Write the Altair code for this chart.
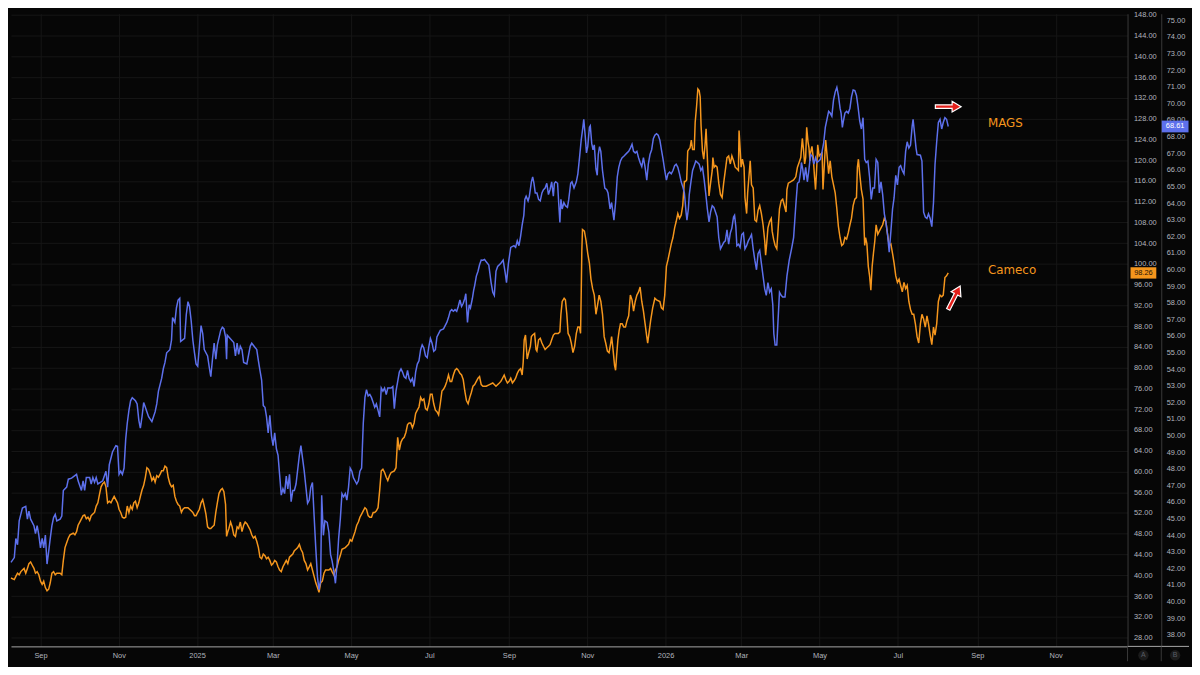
import altair as alt
import pandas as pd

# ---------------- data (day offset from 2024-08-09, price) ----------------
START = "2024-08-09"

mags = [
(0.0,42.36),(2.6,42.65),(3.8,43.80),(5.1,43.42),(6.4,44.86),(8.9,45.63),(11.5,45.73),(12.8,44.96),(14.0,45.44),(15.3,44.96),(17.9,44.57),(19.1,44.09),(20.4,44.57),(21.7,44.00),(23.0,43.23),(24.3,43.80),(25.5,43.23),(26.8,44.00),(28.1,42.26),(29.4,43.03),(30.6,43.80),(31.9,44.57),(33.2,45.06),(34.5,45.25),(35.7,44.86),(38.3,44.96),(39.6,45.15),(40.8,46.69),(43.4,46.89),(44.7,47.37),(47.2,47.43),(51.1,47.66),(52.3,47.27),(54.9,46.69),(56.2,47.27),(57.4,46.69),(58.7,47.47),(61.3,47.47),(62.5,47.08),(63.8,47.47),(65.1,47.18),(66.4,47.47),(67.7,47.08),(71.5,47.27),(74.0,47.85),(75.3,46.89),(76.6,48.24),(79.1,49.01),(81.7,49.39),(83.0,49.35),(84.2,47.66),(85.5,47.85),(86.8,47.66),(88.1,48.04),(89.4,49.78),(90.6,50.74),(91.9,51.51),(93.2,52.09),(94.5,52.28),(97.0,52.09),(98.3,51.90),(99.6,50.93),(100.8,50.45),(102.1,51.13),(103.4,51.99),(104.7,51.70),(107.2,51.13),(109.8,50.84),(112.3,51.42),(113.6,51.90),(114.9,52.67),(117.4,53.44),(118.7,54.02),(120.0,54.40),(121.3,54.98),(123.8,55.17),(125.1,55.75),(125.9,57.10),(127.7,56.81),(128.9,57.68),(130.2,58.16),(131.5,58.26),(132.2,55.66),(135.3,55.85),(136.6,57.29),(137.9,58.06),(139.1,57.77),(140.4,56.91),(141.7,55.75),(143.0,54.98),(144.2,54.31),(145.5,54.17),(146.8,55.37),(148.1,56.62),(149.4,56.14),(150.6,55.17),(153.2,54.79),(154.5,54.11),(155.7,53.54),(157.0,54.60),(158.3,55.56),(159.6,54.60),(160.8,55.46),(163.4,56.33),(164.7,56.52),(165.9,56.43),(167.2,55.94),(168.0,54.60),(168.5,56.04),(173.6,55.60),(174.9,54.79),(176.2,55.56),(177.4,54.88),(178.7,55.37),(180.0,55.17),(181.3,54.40),(183.8,54.31),(186.4,55.37),(187.6,55.56),(191.5,55.17),(192.8,54.50),(194.0,53.92),(195.3,53.34),(196.6,51.80),(197.9,51.70),(199.1,51.13),(200.4,50.16),(201.7,51.22),(203.0,49.97),(204.2,49.39),(205.5,50.16),(206.8,49.20),(208.1,48.81),(209.3,47.66),(210.6,46.41),(211.9,46.79),(213.2,46.50),(214.5,47.56),(215.7,46.79),(217.0,47.66),(218.3,46.02),(219.6,46.69),(220.8,46.69),(222.1,47.08),(224.7,48.81),(225.9,49.39),(227.2,48.62),(228.5,47.85),(229.8,46.89),
(231.1,45.92),(232.4,46.11),(233.6,46.88),(234.9,47.17),(236.2,45.15),(237.5,43.22),(238.8,41.49),(240.0,40.72),(241.3,41.30),(242.1,46.40),(243.4,43.99),(244.6,44.86),(246.4,44.77),(247.7,44.19),(249.0,42.84),(250.2,42.45),(251.5,41.87),(252.8,41.10),(254.1,42.26),(255.3,43.80),(256.6,44.96),(257.9,46.50),(259.2,46.31),(260.5,46.50),(261.7,46.11),(263.0,46.88),(264.3,48.04),(265.6,47.85),(266.8,47.46),(269.4,47.08),(270.7,47.27),(271.9,47.85),(273.2,48.04),(274.5,50.74),(275.8,52.28),(277.0,52.76),(278.3,52.38),(279.6,52.47),(280.9,52.28),(282.2,51.99),(283.4,51.70),(284.7,51.90),(286.0,51.51),(287.3,51.12),(288.5,52.86),(289.8,52.67),(291.1,52.86),(292.4,52.47),(293.6,52.86),(296.2,52.86),(297.5,52.95),(298.7,51.61),(300.0,52.67),(301.3,53.24),(302.6,53.82),(303.9,54.01),(305.1,53.82),(306.4,53.53),(307.7,53.44),(309.0,53.92),(310.2,53.44),(311.5,53.24),(312.8,53.44),(314.1,52.95),(315.3,53.82),(316.6,54.30),(317.9,54.50),(319.2,55.17),(320.4,55.46),(321.7,55.27),(323.0,54.79),(324.3,54.69),(325.6,55.36),(326.8,55.85),(328.1,55.56),(329.4,55.07),(330.7,55.17),(331.9,55.94),(333.2,56.13),(334.5,56.33),(337.0,56.42),(339.6,56.81),(340.9,57.10),(342.2,57.48),(343.4,57.58),(344.7,57.48),(346.0,57.58),(347.3,57.48),(348.5,57.77),(349.8,58.16),(351.1,57.77),(352.4,57.96),(353.6,58.25),(354.4,58.54),(354.9,57.87),(355.7,56.81),(357.0,57.87),(358.0,57.68),(359.5,58.25),(360.5,58.74),(361.3,59.03),(362.6,59.60),(363.9,59.89),(365.1,60.28),(366.4,60.57),
(367.7,60.56),(369.0,60.60),(370.3,60.46),(372.3,60.27),(374.1,59.21),(375.4,58.63),(376.6,58.44),(377.9,59.89),(379.2,60.18),(381.7,60.37),(383.5,60.56),(385.1,59.79),(386.1,59.21),(387.6,60.37),(389.4,61.33),(391.9,61.43),(393.2,61.33),(394.5,61.72),(395.8,61.43),(397.1,62.01),(398.3,62.68),(399.6,63.26),(400.4,64.22),(401.4,64.41),(402.9,64.13),(403.9,64.41),(405.5,65.28),(406.5,65.57),(407.5,65.19),(408.5,64.61),(409.8,64.61),(411.1,64.22),(412.4,64.13),(413.7,64.61),(414.9,64.80),(416.2,64.90),(417.5,65.19),(418.8,64.51),(420.0,64.80),(421.3,65.28),(422.6,64.41),(423.4,65.19),(424.4,65.28),(425.9,65.19),(426.9,63.84),(427.7,62.83),(428.5,64.22),(429.5,63.64),(430.8,64.03),(432.0,63.84),(433.6,63.74),(434.6,64.22),(436.1,65.19),(437.1,65.28),(438.7,64.90),(440.5,65.28),(441.7,65.76),(443.0,66.73),(444.3,67.79),(445.6,68.56),(446.3,69.04),(447.4,68.08),(448.4,67.02),(449.4,67.40),(450.7,68.56),(451.4,68.65),(452.5,67.59),(453.5,67.21),(454.5,67.50),(455.8,66.05),(456.8,65.67),(457.6,66.92),(458.6,67.40),(459.6,67.11),(460.9,65.96),(462.7,64.90),(464.2,64.80),(465.2,64.61),(466.8,63.64),(468.0,64.03),(469.8,62.97),(471.1,64.03),(472.4,65.57),(473.6,66.15),(474.9,66.53),(476.2,66.73),(477.5,66.82),(480.0,67.02),(481.3,67.11),(482.6,67.31),(483.9,67.54),(485.1,67.11),(486.4,67.02),(487.7,67.11),(489.0,66.73),(490.2,66.44),(491.5,66.19),(492.8,66.73),(494.1,66.15),(495.4,65.38),(496.6,66.34),(497.9,66.92),(499.2,67.21),(500.5,67.88),(501.7,68.08),(503.0,68.17),(504.3,68.08),(505.6,67.79),(506.8,67.21),(508.1,66.63),(509.4,65.96),(510.7,65.38),(511.9,65.76),(513.2,65.86),(514.5,65.76),(515.8,65.96),(517.1,66.25),(518.3,66.34),(519.6,66.15),(520.9,65.76),(522.2,65.28),(523.4,64.99),(524.7,64.61),(526.0,63.45),(526.7,62.97),(527.8,63.64),(528.5,64.51),(529.8,65.28),(531.1,65.96),(532.4,66.25),(533.6,66.53),(534.9,66.44),(536.2,66.34),(537.5,65.96),(538.8,66.15),(540.0,65.47),(541.3,64.61),(542.6,63.64),(543.9,62.87),(545.1,63.45),(546.4,63.84),(547.7,63.74),(549.0,63.45),(550.2,63.16),(551.5,61.91),(552.8,61.24),(554.1,61.43),(555.3,61.62),(556.6,61.72),(557.9,62.39),(559.2,61.52),(560.5,62.20),(561.7,62.49),(563.0,63.16),(563.8,63.26),(564.8,62.58),(565.6,61.43),(566.8,61.52),(568.1,61.33),(569.4,62.10),(570.7,62.20),(571.9,61.24),(573.2,61.43),(574.5,61.72),(575.8,61.91),(577.0,62.10),(578.3,61.24),(579.6,60.56),(580.9,59.98),(582.1,60.95),(583.4,61.14),(584.7,60.37),(586.0,59.60),(587.3,58.83),(588.5,58.44),(589.8,59.21),(591.1,58.63),(592.4,58.83),(593.6,57.86),(594.4,56.13),(595.4,55.45),(596.7,55.45),
(598.8,58.63),(600.1,58.44),(601.3,58.34),(603.1,58.34),(604.6,59.60),(606.4,60.56),(608.2,61.24),(609.8,61.91),(611.5,63.84),(612.8,65.19),(614.1,65.28),(615.4,65.96),(615.9,66.44),(616.9,66.05),(617.9,65.38),(619.2,66.15),(620.5,65.28),(621.8,66.05),(623.0,66.92),(624.3,66.82),(625.6,66.34),(626.9,66.73),(628.1,66.44),(629.4,66.53),(630.7,66.63),(632.0,67.11),(633.2,67.60),(634.5,68.56),(635.8,69.04),(637.1,69.52),(638.3,69.42),(639.6,69.23),(640.9,70.20),(642.2,70.68),(643.5,70.97),(644.7,70.48),(646.0,69.71),(646.8,69.42),(647.8,68.56),(648.6,68.94),(649.8,69.42),(651.1,69.52),(652.4,69.42),(653.7,69.71),(654.9,70.39),(656.2,70.81),(657.5,70.77),(658.8,70.48),(660.0,69.81),(661.3,68.94),(662.6,68.46),(663.9,69.14),(665.2,66.63),(666.4,66.44),(667.7,66.53),(669.0,65.57),(670.3,64.22),(671.5,64.90),(672.8,64.90),(674.1,66.63),(675.4,66.44),(676.6,64.61),(677.9,65.28),(679.2,64.51),(680.5,63.35),(681.7,62.87),(683.0,62.10),(684.3,61.04),(685.6,62.29),(686.9,63.64),(688.1,64.32),(689.4,65.67),(690.7,65.09),(692.0,66.15),(693.2,66.25),(694.5,65.96),(695.8,65.76),(697.1,67.11),(698.3,67.69),(699.6,67.31),(700.9,67.50),(702.2,68.65),(702.9,69.04),(704.2,68.08),(705.2,67.31),(706.0,66.92),(708.6,66.88),(709.8,66.53),(711.1,63.45),(712.4,63.16),(713.7,63.07),(714.9,63.35),(716.2,63.07),(717.5,62.58),(718.8,64.03),(720.0,66.34),(721.3,67.69),(722.6,68.85),(723.9,69.04),(725.2,68.46),(726.4,68.85),(727.7,69.14),(729.0,69.04),(730.3,68.61),
]

cameco = [
(0.0,39.48),(2.6,39.17),(3.8,39.79),(5.1,40.40),(6.4,40.10),(7.7,40.71),(8.9,41.02),(10.2,41.33),(11.5,40.40),(12.8,41.33),(14.0,42.25),(15.3,42.56),(16.6,41.94),(17.9,41.33),(19.1,40.40),(20.4,40.71),(21.7,40.10),(23.0,38.86),(24.3,38.25),(25.5,38.86),(26.8,37.63),(28.1,37.02),(29.4,37.32),(30.6,38.56),(31.9,40.40),(33.2,40.71),(34.5,40.10),(35.7,40.40),(38.3,40.40),(39.6,40.10),(40.8,42.87),(42.1,45.33),(43.4,46.26),(44.7,47.18),(46.0,47.80),(48.5,48.10),(49.8,47.80),(51.1,48.41),(52.3,49.64),(53.6,50.26),(54.9,50.88),(56.2,51.49),(57.4,51.62),(58.7,50.88),(60.0,51.18),(61.3,50.57),(62.5,51.49),(63.8,51.80),(65.1,52.11),(66.4,53.34),(67.7,53.96),(68.9,55.50),(70.2,57.04),(71.5,57.65),(72.8,57.96),(74.0,57.04),(75.3,53.96),(76.6,54.27),(77.9,53.96),(79.1,54.57),(80.4,55.19),(81.7,54.57),(83.0,53.96),(84.2,52.72),(85.5,52.11),(86.8,51.18),(88.1,51.00),(89.4,51.18),(90.6,53.34),(91.9,52.11),(93.2,53.34),(94.5,52.72),(95.7,53.96),(97.0,54.27),(98.3,53.03),(99.6,53.96),(100.8,55.19),(102.1,56.42),(103.4,57.34),(104.7,58.88),(105.9,60.73),(107.2,60.42),(108.5,59.50),(109.8,58.27),(111.1,58.88),(112.3,57.96),(113.6,59.19),(114.9,58.88),(116.2,59.50),(117.4,60.12),(118.7,60.12),(120.0,61.04),(121.3,60.73),(122.5,58.88),(123.8,57.65),(125.1,57.04),(126.4,57.34),(127.7,55.19),(128.9,54.27),(130.2,53.65),(131.5,53.34),(132.8,52.11),(134.0,52.72),(135.3,53.03),(137.9,53.03),(140.4,52.42),(141.7,52.11),(143.0,51.49),(144.2,51.49),(145.5,52.11),(146.8,52.72),(148.1,53.96),(149.4,54.57),(150.6,53.34),(151.9,51.80),(153.2,49.34),(154.5,49.03),(155.7,49.03),(157.0,49.34),(158.3,49.64),(159.6,52.11),(160.8,53.96),(162.1,55.80),(163.4,56.42),(164.7,56.73),(165.9,56.11),(167.2,53.65),(168.0,47.49),(169.0,48.41),(169.8,49.03),(171.1,50.26),(172.3,49.34),(173.6,47.80),(174.9,47.49),(176.2,49.34),(177.4,49.03),(178.7,50.26),(180.0,48.41),(181.3,49.64),(182.5,50.26),(183.8,49.95),(185.1,49.34),(186.4,48.72),(187.6,47.80),(188.9,47.18),(190.2,47.49),(191.5,46.56),(192.8,45.33),(194.0,43.48),(195.3,43.18),(196.6,44.10),(197.9,43.79),(199.1,43.18),(200.4,43.48),(201.7,42.87),(203.0,41.94),(204.2,42.25),(205.5,42.87),(206.8,42.56),(208.1,41.64),(209.3,41.02),(210.6,40.71),(211.9,41.64),(213.2,42.25),(214.5,42.87),(215.7,42.25),(217.0,43.48),(218.3,43.79),(219.6,44.10),(220.8,44.72),(222.1,45.02),(223.4,45.33),(224.7,45.95),(225.9,45.02),(227.2,44.41),(228.5,42.87),(229.8,42.25),
(231.1,41.02),(232.4,41.63),(233.6,42.25),(234.9,41.02),(236.2,39.79),(237.5,38.55),(238.8,37.63),(240.0,36.71),(241.3,38.55),(242.6,38.86),(243.9,40.40),(245.1,41.02),(247.7,41.02),(249.0,41.33),(250.2,40.71),(251.5,40.09),(252.8,41.02),(254.1,41.63),(255.3,42.87),(256.6,43.79),(257.9,45.02),(260.5,45.33),(261.7,45.64),(263.0,45.95),(264.3,46.87),(265.6,46.56),(266.8,47.49),(268.1,48.41),(269.4,49.64),(270.7,50.26),(271.9,51.18),(273.2,51.80),(274.5,52.41),(275.8,53.03),(277.0,52.72),(278.3,51.49),(279.6,51.18),(280.9,51.18),(282.2,52.11),(283.4,52.11),(284.7,52.41),(286.0,53.03),(287.3,56.42),(288.5,60.11),(289.8,60.42),(291.1,59.81),(292.4,58.88),(293.6,58.27),(294.9,59.19),(296.2,59.81),(298.7,60.11),(300.0,60.73),(301.3,66.58),(302.6,64.12),(303.9,65.66),(305.1,66.27),(306.4,66.58),(307.7,67.51),(309.0,69.05),(310.2,69.35),(311.5,69.35),(312.8,68.43),(314.1,69.35),(315.3,71.20),(316.6,71.82),(317.9,72.43),(319.2,74.28),(320.4,73.67),(321.7,73.97),(323.0,72.13),(324.3,71.82),(325.6,73.05),(326.8,74.90),(328.1,74.90),(329.4,73.05),(330.7,71.82),(331.9,71.51),(333.2,70.89),(334.5,73.05),(335.8,75.51),(337.0,75.82),(338.3,76.44),(339.6,77.36),(340.9,78.59),(342.2,77.36),(343.4,77.36),(344.7,78.59),(346.0,79.52),(347.3,79.83),(348.5,79.52),(349.8,78.90),(351.1,78.59),(352.4,77.67),(353.6,75.51),(354.9,73.67),(356.2,73.05),(357.5,74.28),(358.7,75.21),(360.0,76.44),(361.3,76.75),(362.6,77.36),(363.9,77.98),(365.1,78.29),(366.4,76.75),
(367.7,76.43),(370.3,76.43),(372.8,76.74),(375.4,77.05),(377.9,76.43),(380.5,77.05),(381.7,77.36),(383.0,77.97),(384.3,78.59),(385.6,77.67),(386.8,77.05),(388.1,77.36),(389.4,77.97),(390.7,77.05),(392.0,77.48),(393.2,77.97),(394.5,78.90),(395.8,79.51),(397.1,79.82),(398.3,78.59),(399.1,81.05),(399.9,85.37),(400.9,86.29),(402.2,81.67),(403.4,82.90),(404.7,84.13),(405.5,85.98),(406.5,86.29),(408.0,86.60),(409.1,83.52),(409.8,83.21),(411.1,85.37),(412.4,85.67),(413.7,84.75),(414.9,84.13),(416.2,83.52),(417.5,83.83),(418.8,84.13),(420.0,84.44),(421.3,85.37),(422.6,86.29),(423.9,86.60),(426.4,86.60),(427.7,86.91),(428.5,90.29),(429.5,92.76),(431.0,93.37),(432.0,93.07),(433.1,90.29),(434.1,86.60),(435.4,85.98),(436.6,84.75),(437.9,82.90),(439.2,84.13),(440.5,86.60),(441.7,87.83),(443.0,87.83),(443.8,86.60),(444.3,93.99),(444.8,102.61),(445.3,106.62),(446.8,106.31),(448.1,104.46),(449.4,102.00),(450.7,100.15),(451.9,97.07),(453.2,95.22),(454.5,93.99),(455.8,90.29),(457.1,92.14),(458.3,93.99),(459.6,92.76),(460.9,90.29),(462.2,85.98),(463.4,84.75),(464.7,83.21),(466.0,82.90),(467.3,84.75),(468.0,85.98),(469.1,83.52),(470.3,80.44),(471.1,79.51),(471.9,82.29),(472.9,85.37),(473.9,87.21),(474.9,88.45),(476.2,88.45),(477.5,87.83),(478.8,87.83),(480.0,89.06),(481.3,89.99),(482.6,93.99),(483.9,93.07),(485.1,90.91),(486.4,92.76),(487.7,93.99),(489.0,94.61),(490.2,95.53),(491.5,92.76),(492.8,90.91),(494.1,88.45),(495.4,85.98),(496.1,84.75),(497.1,86.60),(498.4,89.06),(500.0,91.53),(501.7,93.37),(503.0,93.07),(505.6,92.76),(506.8,91.53),(508.1,91.22),(509.4,93.99),(510.7,99.53),(511.9,100.77),(513.2,102.31),(514.5,103.85),(515.8,105.08),(517.1,106.93),(518.3,108.16),(519.6,109.70),(520.9,108.77),(522.2,109.39),(523.4,111.24),(524.7,115.86),(525.5,115.86),(526.5,116.17),(527.3,121.71),(528.0,122.02),(529.1,122.33),(530.1,123.87),(531.1,122.02),(532.4,122.02),(533.1,127.25),(534.2,130.33),(535.2,133.72),(536.2,133.41),(537.0,132.18),(537.7,126.64),(538.8,121.71),(539.8,120.17),(540.8,122.94),(541.6,126.02),(542.6,120.48),(543.9,113.09),(545.1,115.55),(546.4,118.01),(546.9,120.48),(547.9,118.63),(549.0,118.94),(550.2,118.63),(551.5,115.55),(552.8,113.39),(554.1,112.78),(555.3,115.55),(556.6,118.01),(557.9,120.48),(559.2,120.79),(560.5,119.25),(561.7,120.79),(563.0,119.86),(564.3,118.63),(565.6,118.32),(566.8,118.01),(567.3,125.71),(568.1,122.33),(568.9,118.63),(569.9,120.17),(571.2,118.63),(571.9,112.78),(573.2,109.70),(574.0,113.70),(575.0,116.78),(576.0,119.86),(577.0,115.24),(578.3,114.63),(579.6,108.47),(580.9,108.16),(582.1,110.31),(583.4,111.24),(584.7,109.70),(586.0,107.54),(587.3,104.46),(588.0,101.69),(588.8,103.85),(589.8,106.93),(591.1,108.16),(592.4,108.77),(593.1,106.31),(594.2,104.77),(595.4,103.54),(596.7,102.92),
(598.8,110.62),(600.1,112.16),(601.3,112.47),(602.6,111.24),(603.9,110.01),(604.6,114.32),(605.7,115.55),(607.7,115.86),(609.8,116.17),(611.5,116.78),(612.8,118.63),(614.1,119.55),(615.4,120.48),(616.6,124.17),(617.4,122.33),(618.4,119.25),(619.2,120.48),(620.0,126.33),(621.0,123.56),(621.8,122.33),(622.5,119.86),(623.0,121.40),(624.1,122.63),(625.1,120.48),(626.1,116.78),(626.9,114.32),(627.6,117.40),(628.6,122.94),(629.7,120.79),(630.7,121.09),(632.0,121.40),(632.7,114.32),(633.8,119.25),(634.8,123.87),(635.8,121.09),(637.1,117.40),(638.3,119.86),(639.6,116.78),(640.9,115.24),(642.2,113.70),(643.5,110.62),(644.7,107.23),(646.0,105.08),(647.3,103.54),(648.6,103.85),(649.8,105.08),(651.1,104.77),(652.4,106.00),(653.7,107.54),(654.9,108.77),(656.2,111.24),(657.5,112.47),(658.8,112.78),(659.5,118.63),(660.3,120.17),(661.3,117.40),(662.6,114.32),(663.9,112.47),(665.2,103.54),(665.9,105.08),(666.9,103.85),(668.0,99.53),(669.0,97.69),(670.0,94.91),(671.0,99.53),(672.0,102.00),(673.1,104.46),(674.1,107.54),(675.4,105.69),(676.6,106.31),(677.9,106.93),(679.2,107.54),(680.5,108.77),(681.7,108.16),(683.0,105.69),(684.3,103.54),(685.6,103.85),(686.9,102.00),(688.1,100.15),(689.4,97.69),(690.7,96.45),(692.0,97.07),(693.2,95.84),(694.5,94.61),(695.8,96.45),(697.1,95.22),(698.3,95.84),(699.6,92.76),(700.9,91.22),(702.2,90.29),(703.4,90.29),(704.7,88.45),(706.0,85.98),(707.3,84.75),(708.6,88.45),(709.8,90.29),(711.1,89.37),(712.4,87.83),(713.7,89.99),(714.9,88.45),(716.2,86.29),(717.5,84.44),(718.8,87.83),(720.0,86.29),(721.3,88.45),(722.6,92.76),(723.9,93.99),(725.2,93.68),(726.4,93.99),(727.7,97.38),(729.0,97.69),(730.3,98.26),
]

series_names = ["MAGS", "Cameco"]
scale_buttons = ["A", "B"]
axis_a_ticks = list(range(28, 149, 4))   # Cameco scale
axis_b_ticks = list(range(38, 76))       # MAGS scale
month_ticks = [(2024, 9), (2024, 11), (2025, 1), (2025, 3), (2025, 5), (2025, 7), (2025, 9),
               (2025, 11), (2026, 1), (2026, 3), (2026, 5), (2026, 7), (2026, 9), (2026, 11)]

# ---------------- styling ----------------
W, H = 1126, 638
BG = "#060606"
GRID = "#161616"
LBL = "#b2b5be"
BLUE = "#5d70ec"
ORANGE = "#f5961d"
FONT = "Liberation Sans"
SEP = "#3a3a3a"
ARROW = "M-1,-0.14L0.3,-0.14L0.3,-0.42L1,0L0.3,0.42L0.3,0.14L-1,0.14Z"
XA, XB = W + 16, W + 48   # centres of the two price-scale columns


def frame(pairs):
    df = pd.DataFrame(pairs, columns=["d", "v"])
    df["date"] = pd.Timestamp(START) + pd.to_timedelta(df["d"], unit="D")
    return df[["date", "v"]]


mags_df = frame(mags)
cam_df = frame(cameco)
mags_last = mags_df.tail(1).assign(name=series_names[0], label=lambda t: t["v"].map(lambda z: f"{z:.2f}"))
cam_last = cam_df.tail(1).assign(name=series_names[1], label=lambda t: t["v"].map(lambda z: f"{z:.2f}"))

x_axis = alt.Axis(
    values=[alt.DateTime(year=y, month=m, date=1) for y, m in month_ticks],
    labelExpr="month(datum.value) == 0 ? timeFormat(datum.value, '%Y') : timeFormat(datum.value, '%b')",
    grid=True, gridColor=GRID, gridWidth=1, ticks=False, domain=True, domainColor="#a8a8a8",
    domainWidth=1, labelColor=LBL, labelFont=FONT, labelFontSize=7.5, labelPadding=5, title=None,
)
x_enc = alt.X("date:T",
              scale=alt.Scale(domain=[alt.DateTime(year=2024, month=8, date=9),
                                      alt.DateTime(year=2026, month=12, date=27)], nice=False),
              axis=x_axis)

axis_a = alt.Axis(orient="right", values=axis_a_ticks, format=".2f", grid=True, gridColor=GRID,
                  gridWidth=1, ticks=False, domain=True, domainColor=SEP, labelColor=LBL,
                  labelFont=FONT, labelFontSize=7.5, labelPadding=6, title=None)
axis_b = alt.Axis(orient="right", offset=34, values=axis_b_ticks, format=".2f", grid=False,
                  ticks=False, domain=True, domainColor=SEP, labelColor=LBL,
                  labelFont=FONT, labelFontSize=7.5, labelPadding=5, title=None)

yA = alt.Y("v:Q", scale=alt.Scale(domain=[26.3, 148.2], nice=False, zero=False), axis=axis_a)
yB = alt.Y("v:Q", scale=alt.Scale(domain=[37.3, 75.4], nice=False, zero=False), axis=axis_b)

# ---- MAGS group (scale B) ----
m_line = alt.Chart(mags_df).mark_line(color=BLUE, strokeWidth=1.5).encode(x=x_enc, y=yB)
m_base = alt.Chart(mags_last)
m_text = m_base.mark_text(align="left", baseline="middle", dx=40, dy=-3, font="DejaVu Sans",
                          fontSize=12, color=ORANGE).encode(x=x_enc, y=yB, text="name:N")
m_arrow = m_base.mark_point(shape=ARROW, size=676, filled=True, color="#e3201b", stroke="#ffffff",
                            strokeWidth=1.2, opacity=1, yOffset=-20).encode(x=x_enc, y=yB)
m_box = m_base.mark_point(shape="M-1,-0.44L1,-0.44L1,0.44L-1,0.44Z", size=729, filled=True,
                          color=BLUE, opacity=1).encode(x=alt.value(XB), y=yB)
m_box_text = m_base.mark_text(align="center", baseline="middle", font=FONT, fontSize=7.5,
                              color="#ffffff").encode(x=alt.value(XB), y=yB, text="label:N")
mags_group = alt.layer(m_line, m_text, m_arrow, m_box, m_box_text)

# ---- Cameco group (scale A) ----
c_line = alt.Chart(cam_df).mark_line(color=ORANGE, strokeWidth=1.5).encode(x=x_enc, y=yA)
c_base = alt.Chart(cam_last)
c_text = c_base.mark_text(align="left", baseline="middle", dx=40, dy=-3, font="DejaVu Sans",
                          fontSize=12, color=ORANGE).encode(x=x_enc, y=yA, text="name:N")
c_arrow = c_base.mark_point(shape=ARROW, size=700, filled=True, color="#e3201b", stroke="#ffffff",
                            strokeWidth=1.2, opacity=1, angle=297, xOffset=6,
                            yOffset=25).encode(x=x_enc, y=yA)
c_box = c_base.mark_point(shape="M-1,-0.44L1,-0.44L1,0.44L-1,0.44Z", size=676, filled=True,
                          color=ORANGE, opacity=1).encode(x=alt.value(XA), y=yA)
c_box_text = c_base.mark_text(align="center", baseline="middle", font=FONT, fontSize=7.5,
                              color="#1e1406").encode(x=alt.value(XA), y=yA, text="label:N")
cam_group = alt.layer(c_line, c_text, c_arrow, c_box, c_box_text)

# ---- price-scale footer (axis line continuation, separators, A / B buttons) ----
btn_df = pd.DataFrame({"b": scale_buttons})
foot_line = alt.Chart(btn_df.head(1)).mark_rule(color="#a8a8a8", strokeWidth=1).encode(
    x=alt.value(W), x2=alt.value(W + 62), y=alt.value(H))
sep1 = alt.Chart(btn_df.head(1)).mark_rule(color=SEP, strokeWidth=1).encode(
    x=alt.value(W), y=alt.value(H), y2=alt.value(H + 15))
sep2 = alt.Chart(btn_df.head(1)).mark_rule(color=SEP, strokeWidth=1).encode(
    x=alt.value(W + 34), y=alt.value(H), y2=alt.value(H + 15))
btn_a = alt.Chart(btn_df.head(1)).mark_circle(size=110, color="#1b1b1b", opacity=1).encode(
    x=alt.value(XA), y=alt.value(H + 9))
btn_b = alt.Chart(btn_df.tail(1)).mark_circle(size=110, color="#1b1b1b", opacity=1).encode(
    x=alt.value(XB), y=alt.value(H + 9))
btn_a_t = alt.Chart(btn_df.head(1)).mark_text(font=FONT, fontSize=7, color="#5a5d66").encode(
    x=alt.value(XA), y=alt.value(H + 9), text="b:N")
btn_b_t = alt.Chart(btn_df.tail(1)).mark_text(font=FONT, fontSize=7, color="#5a5d66").encode(
    x=alt.value(XB), y=alt.value(H + 9), text="b:N")
footer = alt.layer(foot_line, sep1, sep2, btn_a, btn_b, btn_a_t, btn_b_t)

chart = (
    alt.layer(cam_group, mags_group, footer)
    .resolve_scale(y="independent")
    .properties(width=W, height=H, background=BG,
                padding={"left": 0, "top": 0, "right": 2, "bottom": 2})
    .configure_view(strokeWidth=0)
)

chart.save("out.html", embed_options={"renderer": "svg", "actions": False})
